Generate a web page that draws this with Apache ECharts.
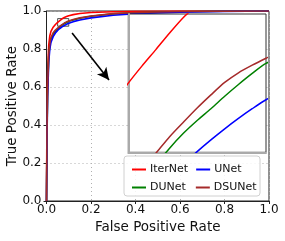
<!DOCTYPE html>
<html><head><meta charset="utf-8">
<script src="https://cdn.jsdelivr.net/npm/echarts@6/dist/echarts.min.js"></script>
<style>html,body{margin:0;padding:0;background:#fff}#c{width:285px;height:241px}</style>
</head><body><div id="c"></div>
<script>
const fpr = [0,0.002,0.005,0.01,0.015,0.02,0.03,0.04,0.05,0.055,0.06,0.065,0.07,0.075,0.08,0.085,0.09,0.095,0.1,0.12,0.15,0.2,0.3,0.4,0.6,0.8,1];
const iterNet = [0,0.45,0.68,0.82,0.87,0.893,0.915,0.929,0.940,0.945,0.9497,0.9545,0.959,0.9625,0.9655,0.968,0.9705,0.9727,0.9747,0.981,0.987,0.992,0.996,0.998,0.9993,0.9998,1];
const duNet = [0,0.33,0.58,0.76,0.82,0.85,0.877,0.893,0.904,0.9105,0.9162,0.9212,0.9255,0.9292,0.9326,0.9362,0.9396,0.9428,0.9457,0.953,0.962,0.972,0.985,0.991,0.996,0.999,1];
const uNet = [0,0.3,0.55,0.73,0.8,0.835,0.865,0.884,0.898,0.9032,0.908,0.9125,0.9165,0.9202,0.9236,0.9268,0.9298,0.9326,0.9352,0.944,0.953,0.964,0.978,0.986,0.994,0.998,1];
const dsuNet = [0,0.35,0.6,0.77,0.83,0.86,0.885,0.9,0.91,0.915,0.9197,0.9245,0.9287,0.9328,0.9366,0.9402,0.943,0.9452,0.9472,0.955,0.964,0.974,0.986,0.992,0.997,0.999,1];
const names = ['IterNet','DUNet','UNet','DSUNet'];
const colors = ['#ff0000','#008000','#0000ff','#a52a2a'];
const values = [iterNet, duNet, uNet, dsuNet];
const zoomBox = [[0.05,0.92],[0.1,0.96]];
const arrowFrom = [0.115,0.884], arrowTo = [0.281,0.637];

const FONT = 'DejaVu Sans';
const pairs = v => fpr.map((x,i)=>[x,v[i]]);
const series = [];
names.forEach((n,i)=>{
  series.push({name:n,type:'line',xAxisIndex:0,yAxisIndex:0,data:pairs(values[i]),showSymbol:false,
    smooth:false,lineStyle:{color:colors[i],width:1.6},itemStyle:{color:colors[i]},z:3,animation:false});
});
names.forEach((n,i)=>{
  series.push({name:n,type:'line',xAxisIndex:1,yAxisIndex:1,data:pairs(values[i]),showSymbol:false,clip:true,
    smooth:0.25,lineStyle:{color:colors[i],width:1.5},itemStyle:{color:colors[i]},z:12,animation:false});
});
series.push({type:'line',xAxisIndex:0,yAxisIndex:0,data:[],z:4,animation:false,
  markArea:{silent:true,itemStyle:{color:'rgba(0,0,0,0)',borderColor:'#222',borderWidth:0.8},
    data:[[{coord:zoomBox[0]},{coord:zoomBox[1]}]]},
  markLine:{silent:true,symbol:['none','arrow'],symbolSize:[9,12],label:{show:false},
    lineStyle:{color:'#000',width:1.6,type:'solid'},
    data:[[{coord:arrowFrom},{coord:arrowTo}]]}
});

const axisText = {fontFamily:FONT,fontSize:12,color:'#111'};
const chart = echarts.init(document.getElementById('c'),null,{renderer:'canvas'});
chart.setOption({
  animation:false,
  backgroundColor:'#fff',
  grid:[
    {left:46.5,top:11,width:222.5,height:190,show:true,borderColor:'#222',borderWidth:1,backgroundColor:'transparent',z:0,containLabel:false,outerBoundsMode:'none'},
    {left:128.3,top:14,width:137.7,height:138.3,show:true,borderColor:'#333',borderWidth:1,backgroundColor:'#fff',z:10,containLabel:false,outerBoundsMode:'none'}
  ],
  xAxis:[
    {gridIndex:0,type:'value',min:0,max:1,interval:0.2,name:'False Positive Rate',nameLocation:'middle',nameGap:19,nameMoveOverlap:false,
      nameTextStyle:{fontFamily:FONT,fontSize:13.5,color:'#111'},
      axisLine:{show:true,lineStyle:{color:'#222',width:1}},axisTick:{show:true,length:3,lineStyle:{color:'#222'}},
      axisLabel:Object.assign({margin:3,formatter:v=>v.toFixed(1)},axisText),
      splitLine:{show:true,lineStyle:{color:'#b0b0b0',type:[1,3],width:1}}},
    {gridIndex:1,type:'value',min:zoomBox[0][0],max:zoomBox[1][0],axisLine:{show:true,lineStyle:{color:'#aaa',width:2}},
      axisTick:{show:false},axisLabel:{show:false},splitLine:{show:false},z:11}
  ],
  yAxis:[
    {gridIndex:0,type:'value',min:0,max:1,interval:0.2,name:'True Positive Rate',nameLocation:'middle',nameGap:27,nameMoveOverlap:false,
      nameTextStyle:{fontFamily:FONT,fontSize:13.5,color:'#111'},
      axisLine:{show:true,lineStyle:{color:'#222',width:1}},axisTick:{show:true,length:3,lineStyle:{color:'#222'}},
      axisLabel:Object.assign({margin:5,formatter:v=>v.toFixed(1)},axisText),
      splitLine:{show:true,lineStyle:{color:'#b0b0b0',type:[1,3],width:1}}},
    {gridIndex:1,type:'value',min:zoomBox[0][1],max:zoomBox[1][1],axisLine:{show:true,lineStyle:{color:'#aaa',width:2}},
      axisTick:{show:false},axisLabel:{show:false},splitLine:{show:false},z:11}
  ],
  legend:[
    {data:[names[0],names[2]],left:127,top:159,icon:'rect',itemWidth:14,itemHeight:2,itemGap:8,z:20,
      textStyle:{fontFamily:FONT,fontSize:11,color:'#111',padding:[0,0,0,-1]}},
    {data:[names[1],names[3]],left:127,top:177,icon:'rect',itemWidth:14,itemHeight:2,itemGap:10,z:20,
      textStyle:{fontFamily:FONT,fontSize:11,color:'#111',padding:[0,0,0,-1]}}
  ],
  graphic:[{type:'rect',shape:{x:124,y:156,width:136,height:40,r:3},style:{fill:'rgba(255,255,255,0.85)',stroke:'#d0d0d0',lineWidth:1},z:15}],
  series:series
});
</script></body></html>
